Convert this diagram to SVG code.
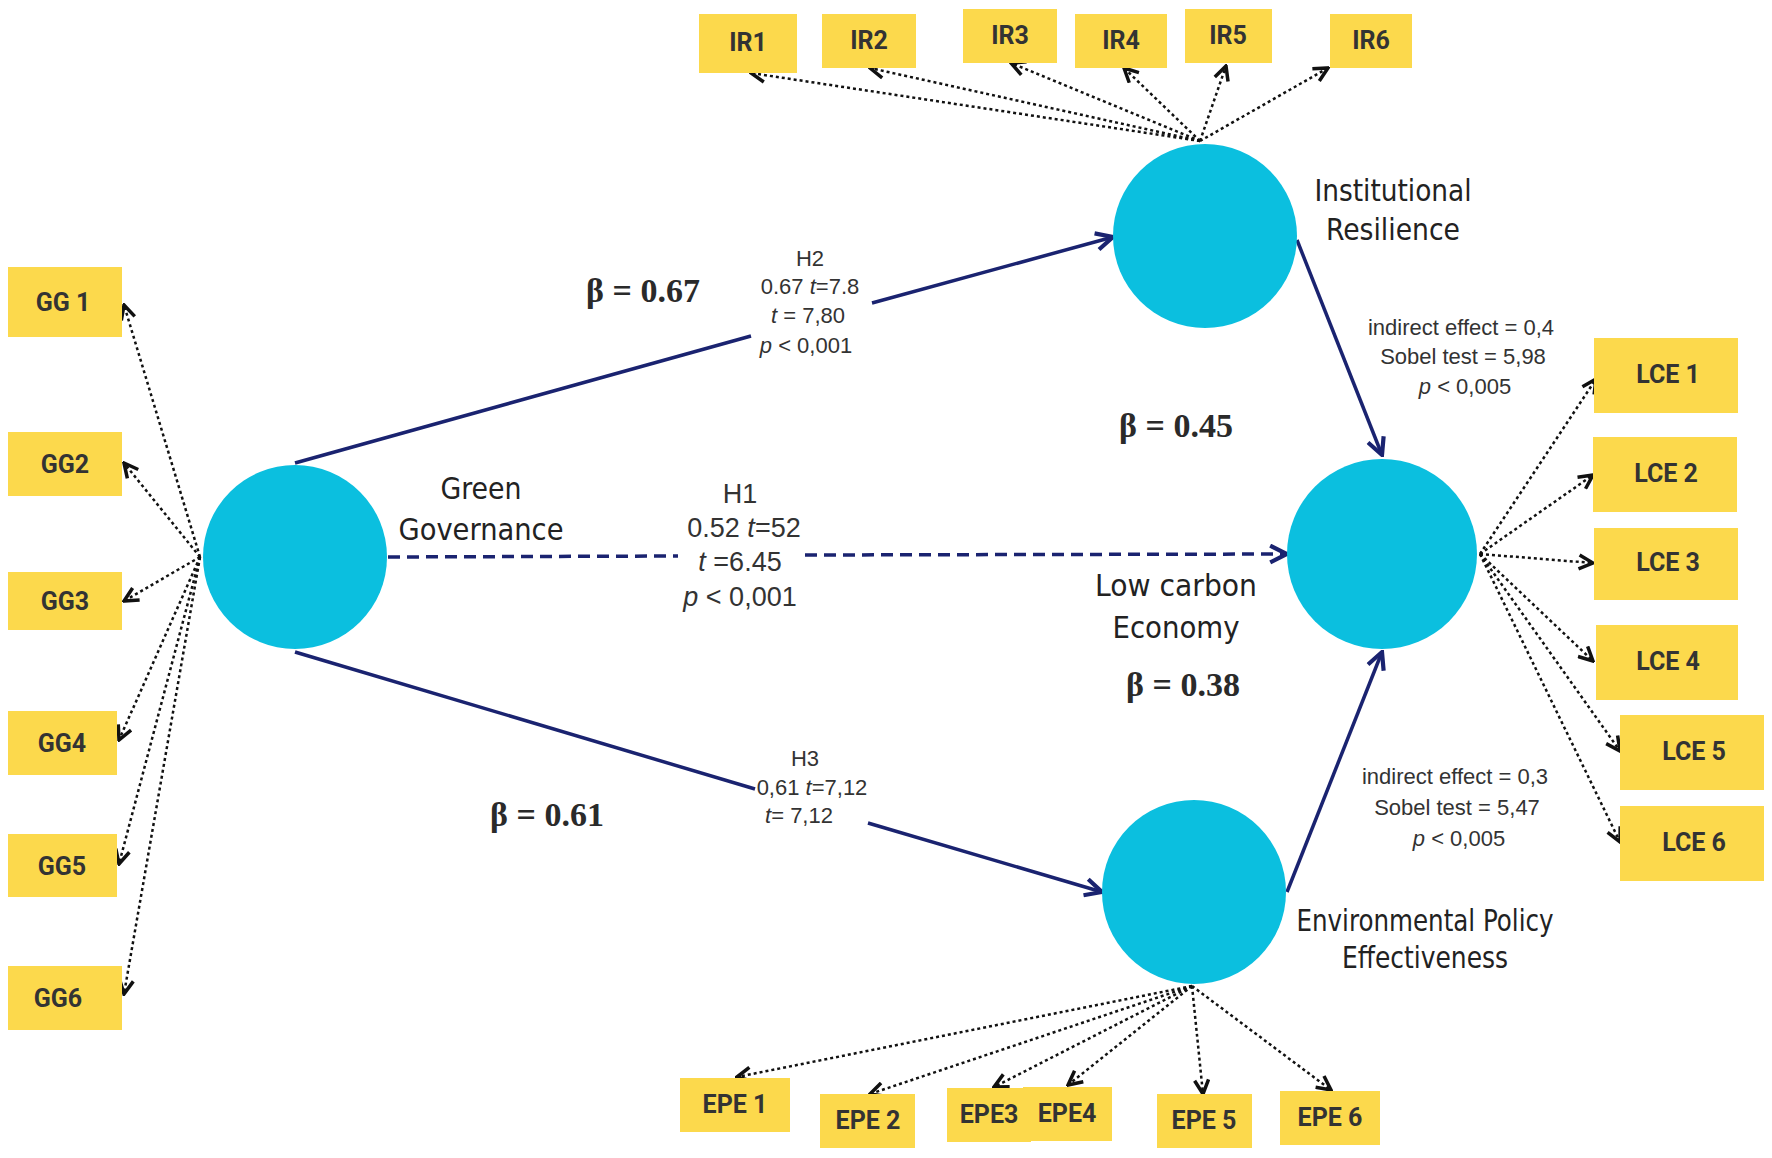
<svg xmlns="http://www.w3.org/2000/svg" width="1772" height="1158" viewBox="0 0 1772 1158">
<defs>
<marker id="ad" viewBox="0 0 10 10" refX="9" refY="5" markerWidth="7" markerHeight="7" orient="auto-start-reverse"><path d="M1,1 L9,5 L1,9" fill="none" stroke="#111" stroke-width="2"/></marker>
<marker id="as" viewBox="0 0 10 10" refX="9" refY="5" markerWidth="6" markerHeight="6" orient="auto"><path d="M1,1 L9,5 L1,9" fill="none" stroke="#1a2370" stroke-width="2"/></marker>
</defs>
<style>
.box{fill:#fcd94c}
.bl{font-family:Roboto,"Liberation Sans",sans-serif;font-weight:bold;font-size:25px;fill:#333;text-anchor:middle;dominant-baseline:central}
.c{fill:#0bbfdf}
.dot{stroke:#111;stroke-width:2.5;stroke-dasharray:3 3;fill:none;marker-end:url(#ad)}
.sol{stroke:#1a2370;stroke-width:3.5;fill:none}
.dash{stroke:#1a2370;stroke-width:3.5;stroke-dasharray:12 7;fill:none}
.nm{font-family:"DejaVu Sans Condensed","Liberation Sans",sans-serif;font-size:31px;fill:#222;text-anchor:middle;dominant-baseline:central}
.bt{font-family:"Liberation Serif",serif;font-weight:bold;font-size:34px;fill:#2a2a2a;text-anchor:middle;dominant-baseline:central}
.sm{font-family:"Liberation Sans",sans-serif;font-size:22px;fill:#333;text-anchor:middle;dominant-baseline:central}
.md{font-family:"Liberation Sans",sans-serif;font-size:27px;fill:#333;text-anchor:middle;dominant-baseline:central}
</style>
<g id="connectors">
<path class="dot" d="M200,557 L124,305"/><path class="dot" d="M200,557 L124,463"/><path class="dot" d="M200,557 L124,601"/><path class="dot" d="M200,557 L119,740"/><path class="dot" d="M200,557 L119,864"/><path class="dot" d="M200,557 L124,994"/>
<path class="dot" d="M1200,141 L751,73"/><path class="dot" d="M1200,141 L870,68"/><path class="dot" d="M1200,141 L1011,63"/><path class="dot" d="M1200,141 L1124,68"/><path class="dot" d="M1200,141 L1226,66"/><path class="dot" d="M1200,141 L1328,68"/>
<path class="dot" d="M1480,554 L1596,379"/><path class="dot" d="M1480,554 L1593,475"/><path class="dot" d="M1480,554 L1593,563"/><path class="dot" d="M1480,554 L1593,661"/><path class="dot" d="M1480,554 L1620,751"/><path class="dot" d="M1480,554 L1620,842"/>
<path class="dot" d="M1192,986 L737,1077"/><path class="dot" d="M1192,986 L870,1094"/><path class="dot" d="M1192,986 L994,1087"/><path class="dot" d="M1192,986 L1068,1085"/><path class="dot" d="M1192,986 L1203,1094"/><path class="dot" d="M1192,986 L1331,1090"/>
<path class="sol" d="M295,463 L751,336"/><path class="sol" d="M872,303 L1113,237" marker-end="url(#as)"/>
<path class="sol" d="M295,652 L755,789"/><path class="sol" d="M868,823 L1102,892" marker-end="url(#as)"/>
<path class="dash" d="M388,557 L678,556"/><path class="dash" d="M805,555 L1287,554" marker-end="url(#as)"/>
<path class="sol" d="M1297,240 L1382,455" marker-end="url(#as)"/>
<path class="sol" d="M1287,892 L1382,652" marker-end="url(#as)"/>
</g>
<g id="GG"><circle class="c" cx="295" cy="557" r="92"/></g>
<g id="IR"><circle class="c" cx="1205" cy="236" r="92"/></g>
<g id="LCE"><circle class="c" cx="1382" cy="554" r="95"/></g>
<g id="EPE"><circle class="c" cx="1194" cy="892" r="92"/></g>
<g id="GG1"><rect class="box" x="8" y="267" width="114" height="70"/><text class="bl" x="63" y="302">GG 1</text></g>
<g id="GG2"><rect class="box" x="8" y="432" width="114" height="64"/><text class="bl" x="65" y="464">GG2</text></g>
<g id="GG3"><rect class="box" x="8" y="572" width="114" height="58"/><text class="bl" x="65" y="601">GG3</text></g>
<g id="GG4"><rect class="box" x="8" y="711" width="109" height="64"/><text class="bl" x="62" y="743">GG4</text></g>
<g id="GG5"><rect class="box" x="8" y="834" width="109" height="63"/><text class="bl" x="62" y="866">GG5</text></g>
<g id="GG6"><rect class="box" x="8" y="966" width="114" height="64"/><text class="bl" x="58" y="998">GG6</text></g>
<g id="IR1"><rect class="box" x="699" y="14" width="98" height="59"/><text class="bl" x="748" y="42">IR1</text></g>
<g id="IR2"><rect class="box" x="822" y="14" width="94" height="54"/><text class="bl" x="869" y="40">IR2</text></g>
<g id="IR3"><rect class="box" x="963" y="9" width="94" height="54"/><text class="bl" x="1010" y="35">IR3</text></g>
<g id="IR4"><rect class="box" x="1075" y="14" width="92" height="54"/><text class="bl" x="1121" y="40">IR4</text></g>
<g id="IR5"><rect class="box" x="1185" y="9" width="87" height="54"/><text class="bl" x="1228" y="35">IR5</text></g>
<g id="IR6"><rect class="box" x="1330" y="14" width="82" height="54"/><text class="bl" x="1371" y="40">IR6</text></g>
<g id="LCE1"><rect class="box" x="1594" y="338" width="144" height="75"/><text class="bl" x="1668" y="374">LCE 1</text></g>
<g id="LCE2"><rect class="box" x="1593" y="437" width="144" height="75"/><text class="bl" x="1666" y="473">LCE 2</text></g>
<g id="LCE3"><rect class="box" x="1594" y="528" width="144" height="72"/><text class="bl" x="1668" y="562">LCE 3</text></g>
<g id="LCE4"><rect class="box" x="1596" y="625" width="142" height="75"/><text class="bl" x="1668" y="661">LCE 4</text></g>
<g id="LCE5"><rect class="box" x="1620" y="715" width="144" height="75"/><text class="bl" x="1694" y="751">LCE 5</text></g>
<g id="LCE6"><rect class="box" x="1620" y="806" width="144" height="75"/><text class="bl" x="1694" y="842">LCE 6</text></g>
<g id="EPE1"><rect class="box" x="680" y="1078" width="110" height="54"/><text class="bl" x="735" y="1104">EPE 1</text></g>
<g id="EPE2"><rect class="box" x="820" y="1094" width="95" height="54"/><text class="bl" x="868" y="1120">EPE 2</text></g>
<g id="EPE3"><rect class="box" x="947" y="1088" width="84" height="54"/><text class="bl" x="989" y="1114">EPE3</text></g>
<g id="EPE4"><rect class="box" x="1023" y="1087" width="89" height="54"/><text class="bl" x="1067" y="1113">EPE4</text></g>
<g id="EPE5"><rect class="box" x="1157" y="1094" width="95" height="54"/><text class="bl" x="1204" y="1120">EPE 5</text></g>
<g id="EPE6"><rect class="box" x="1280" y="1091" width="100" height="54"/><text class="bl" x="1330" y="1117">EPE 6</text></g>
<g id="labels">
<text class="nm" x="481" y="488" textLength="81" lengthAdjust="spacingAndGlyphs">Green</text><text class="nm" x="481" y="529" textLength="165" lengthAdjust="spacingAndGlyphs">Governance</text>
<text class="nm" x="1393" y="190" textLength="157" lengthAdjust="spacingAndGlyphs">Institutional</text><text class="nm" x="1393" y="229" textLength="134" lengthAdjust="spacingAndGlyphs">Resilience</text>
<text class="nm" x="1176" y="585" textLength="162" lengthAdjust="spacingAndGlyphs">Low carbon</text><text class="nm" x="1176" y="627" textLength="127" lengthAdjust="spacingAndGlyphs">Economy</text>
<text class="nm" x="1425" y="920" textLength="257" lengthAdjust="spacingAndGlyphs">Environmental Policy</text><text class="nm" x="1425" y="957" textLength="166" lengthAdjust="spacingAndGlyphs">Effectiveness</text>
<text class="bt" x="643" y="290">β = 0.67</text>
<text class="bt" x="1176" y="425">β = 0.45</text>
<text class="bt" x="1183" y="684" font-family="Roboto,sans-serif">β = 0.38</text>
<text class="bt" x="547" y="814">β = 0.61</text>
<text class="sm" x="810" y="258">H2</text><text class="sm" x="810" y="286">0.67 <tspan font-style="italic">t</tspan>=7.8</text><text class="sm" x="808" y="315"><tspan font-style="italic">t</tspan> = 7,80</text><text class="sm" x="806" y="345"><tspan font-style="italic">p</tspan> &lt; 0,001</text>
<text class="md" x="740" y="494">H1</text><text class="md" x="744" y="528">0.52 <tspan font-style="italic">t</tspan>=52</text><text class="md" x="740" y="562"><tspan font-style="italic">t</tspan> =6.45</text><text class="md" x="740" y="597"><tspan font-style="italic">p</tspan> &lt; 0,001</text>
<text class="sm" x="805" y="758">H3</text><text class="sm" x="812" y="787">0,61 <tspan font-style="italic">t</tspan>=7,12</text><text class="sm" x="799" y="815"><tspan font-style="italic">t</tspan>= 7,12</text>
<text class="sm" x="1461" y="327">indirect effect = 0,4</text><text class="sm" x="1463" y="356">Sobel test = 5,98</text><text class="sm" x="1465" y="386"><tspan font-style="italic">p</tspan> &lt; 0,005</text>
<text class="sm" x="1455" y="776">indirect effect = 0,3</text><text class="sm" x="1457" y="807">Sobel test = 5,47</text><text class="sm" x="1459" y="838"><tspan font-style="italic">p</tspan> &lt; 0,005</text>
</g>
</svg>
